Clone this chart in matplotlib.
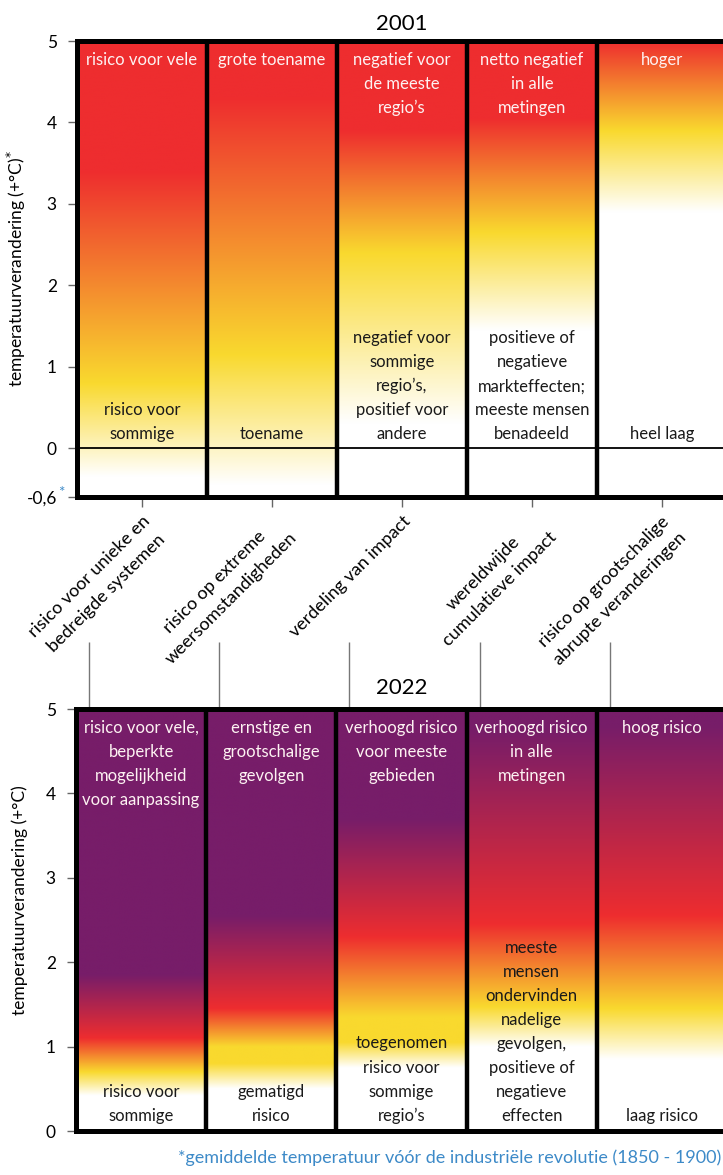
import numpy as np
import matplotlib
matplotlib.use("Agg")
import matplotlib.pyplot as plt
from matplotlib.colors import to_rgb

plt.rcParams['font.family'] = ['Lato', 'DejaVu Sans']

# ---------------- data ----------------
categories = [
    "risico voor unieke en\nbedreigde systemen",
    "risico op extreme\nweersomstandigheden",
    "verdeling van impact",
    "wereldwijde\ncumulatieve impact",
    "risico op grootschalige\nabrupte veranderingen",
]

palette = {'W': '#FFFFFF', 'Y': '#F9D92E', 'R': '#EE2D2F', 'P': '#771D69'}

# colour transitions (temperature, colour) per category
embers_2001 = [
    [(-0.35, 'W'), (0.8, 'Y'), (3.4, 'R')],
    [(-0.45, 'W'), (1.15, 'Y'), (4.3, 'R')],
    [(0.3, 'W'), (2.4, 'Y'), (3.9, 'R')],
    [(1.45, 'W'), (2.65, 'Y'), (4.05, 'R')],
    [(2.9, 'W'), (3.9, 'Y'), (5.0, 'R')],
]
embers_2022 = [
    [(0.42, 'W'), (0.7, 'Y'), (1.1, 'R'), (1.85, 'P')],
    [(0.5, 'W'), (0.8, 'Y'), (1.0, 'Y'), (1.45, 'R'), (2.55, 'P')],
    [(0.75, 'W'), (1.05, 'Y'), (1.35, 'Y'), (2.3, 'R'), (3.7, 'P')],
    [(1.0, 'W'), (1.47, 'Y'), (2.45, 'R'), (4.75, 'P')],
    [(0.85, 'W'), (1.45, 'Y'), (2.55, 'R'), (4.8, 'P')],
]

top_text_2001 = ["risico voor vele", "grote toename", "negatief voor\nde meeste\nregio’s",
                 "netto negatief\nin alle\nmetingen", "hoger"]
bottom_text_2001 = ["risico voor\nsommige", "toename",
                    "negatief voor\nsommige\nregio’s,\npositief voor\nandere",
                    "positieve of\nnegatieve\nmarkteffecten;\nmeeste mensen\nbenadeeld",
                    "heel laag"]
top_text_2022 = ["risico voor vele,\nbeperkte\nmogelijkheid\nvoor aanpassing",
                 "ernstige en\ngrootschalige\ngevolgen",
                 "verhoogd risico\nvoor meeste\ngebieden",
                 "verhoogd risico\nin alle\nmetingen",
                 "hoog risico"]
bottom_text_2022 = ["risico voor\nsommige", "gematigd\nrisico",
                    "toegenomen\nrisico voor\nsommige\nregio’s",
                    "meeste\nmensen\nondervinden\nnadelige\ngevolgen,\npositieve of\nnegatieve\neffecten",
                    "laag risico"]

yticks_2001 = [-0.6, 0, 1, 2, 3, 4, 5]
yticklabels_2001 = ["-0,6", "0", "1", "2", "3", "4", "5"]
yticks_2022 = [0, 1, 2, 3, 4, 5]
yticklabels_2022 = ["0", "1", "2", "3", "4", "5"]

ylabel_2001 = "temperatuurverandering (+°C)$^{*}$"
ylabel_2022 = "temperatuurverandering (+°C)"
footnote = "*gemiddelde temperatuur vóór de industriële revolutie (1850 - 1900)"
blue = '#3D8AC8'

# ---------------- drawing ----------------
W, H = 723, 1175
fig = plt.figure(figsize=(W / 100, H / 100), dpi=100)

ax1 = fig.add_axes([77 / W, 1 - 497 / H, 650 / W, 456 / H])
ax2 = fig.add_axes([76 / W, 1 - 1131 / H, 651 / W, 422 / H])


def ember(ax, stops_list, y0, y1):
    y = np.linspace(y0, y1, 800)
    for i, stops in enumerate(stops_list):
        ys = [s[0] for s in stops]
        cols = np.array([to_rgb(palette[s[1]]) for s in stops])
        rgb = np.stack([np.interp(y, ys, cols[:, k]) for k in range(3)], axis=-1)
        img = np.repeat(rgb[:, None, :], 2, axis=1)
        ax.imshow(img, extent=(i, i + 1, y0, y1), origin='lower', aspect='auto',
                  interpolation='bilinear', zorder=0)
    for i in range(1, len(stops_list)):
        ax.axvline(i, color='black', lw=3.2, zorder=3)
    ax.set_xlim(0, len(stops_list))
    ax.set_ylim(y0, y1)
    for s in ax.spines.values():
        s.set_linewidth(3.6)
        s.set_color('black')
        s.set_zorder(4)


def cell_texts(ax, tops, bottoms, ybot):
    for i, (t, b) in enumerate(zip(tops, bottoms)):
        ax.text(i + 0.5, 4.87, t, ha='center', va='top', color='#FDF2F2',
                fontsize=12, linespacing=1.62, zorder=5)
        ax.text(i + 0.5, ybot, b, ha='center', va='bottom', color='#1A1A1A',
                fontsize=12, linespacing=1.62, zorder=5)


# ---- 2001 panel ----
ember(ax1, embers_2001, -0.6, 5)
ax1.axhline(0, color='black', lw=1.3, zorder=2)
cell_texts(ax1, top_text_2001, bottom_text_2001, 0.07)
ax1.set_title("2001", fontsize=16, pad=8)
ax1.set_yticks(yticks_2001, yticklabels_2001, fontsize=12.5)
ax1.tick_params(axis='y', length=6.5, width=1, color='#666666', pad=8)
centers = np.arange(len(categories)) + 0.5
ax1.set_xticks(centers)
ax1.set_xticklabels(categories, rotation=45, ha='right', va='top',
                    rotation_mode='anchor', fontsize=13, linespacing=1.55,
                    multialignment='center')
ax1.tick_params(axis='x', length=7.5, width=1, color='#666666', pad=4)
ax1.set_ylabel(ylabel_2001, fontsize=12.5)
ax1.yaxis.set_label_coords(-0.075, 0.5)
ax1.annotate("*", xy=(0, -0.6), xycoords=('axes fraction', 'data'),
             xytext=(-11, 3), textcoords='offset points', ha='center', va='center',
             color=blue, fontsize=11)

# ---- 2022 panel ----
ember(ax2, embers_2022, 0, 5)
cell_texts(ax2, top_text_2022, bottom_text_2022, 0.08)
ax2.set_title("2022", fontsize=16, pad=11)
ax2.set_yticks(yticks_2022, yticklabels_2022, fontsize=12.5)
ax2.tick_params(axis='y', length=6.5, width=1, color='#666666', pad=8)
connector_offset = -0.4
ax2.set_xticks(centers + connector_offset)
ax2.tick_params(axis='x', top=True, bottom=False, labeltop=False, labelbottom=False,
                length=48, width=1, color='#777777', direction='out')
ax2.set_ylabel(ylabel_2022, fontsize=12.5)
ax2.yaxis.set_label_coords(-0.074, 0.547)

fig.text(178 / W, 1 - 1158 / H, footnote, color=blue, fontsize=13,
         ha='left', va='center')

fig.savefig("out.png", dpi=100)
